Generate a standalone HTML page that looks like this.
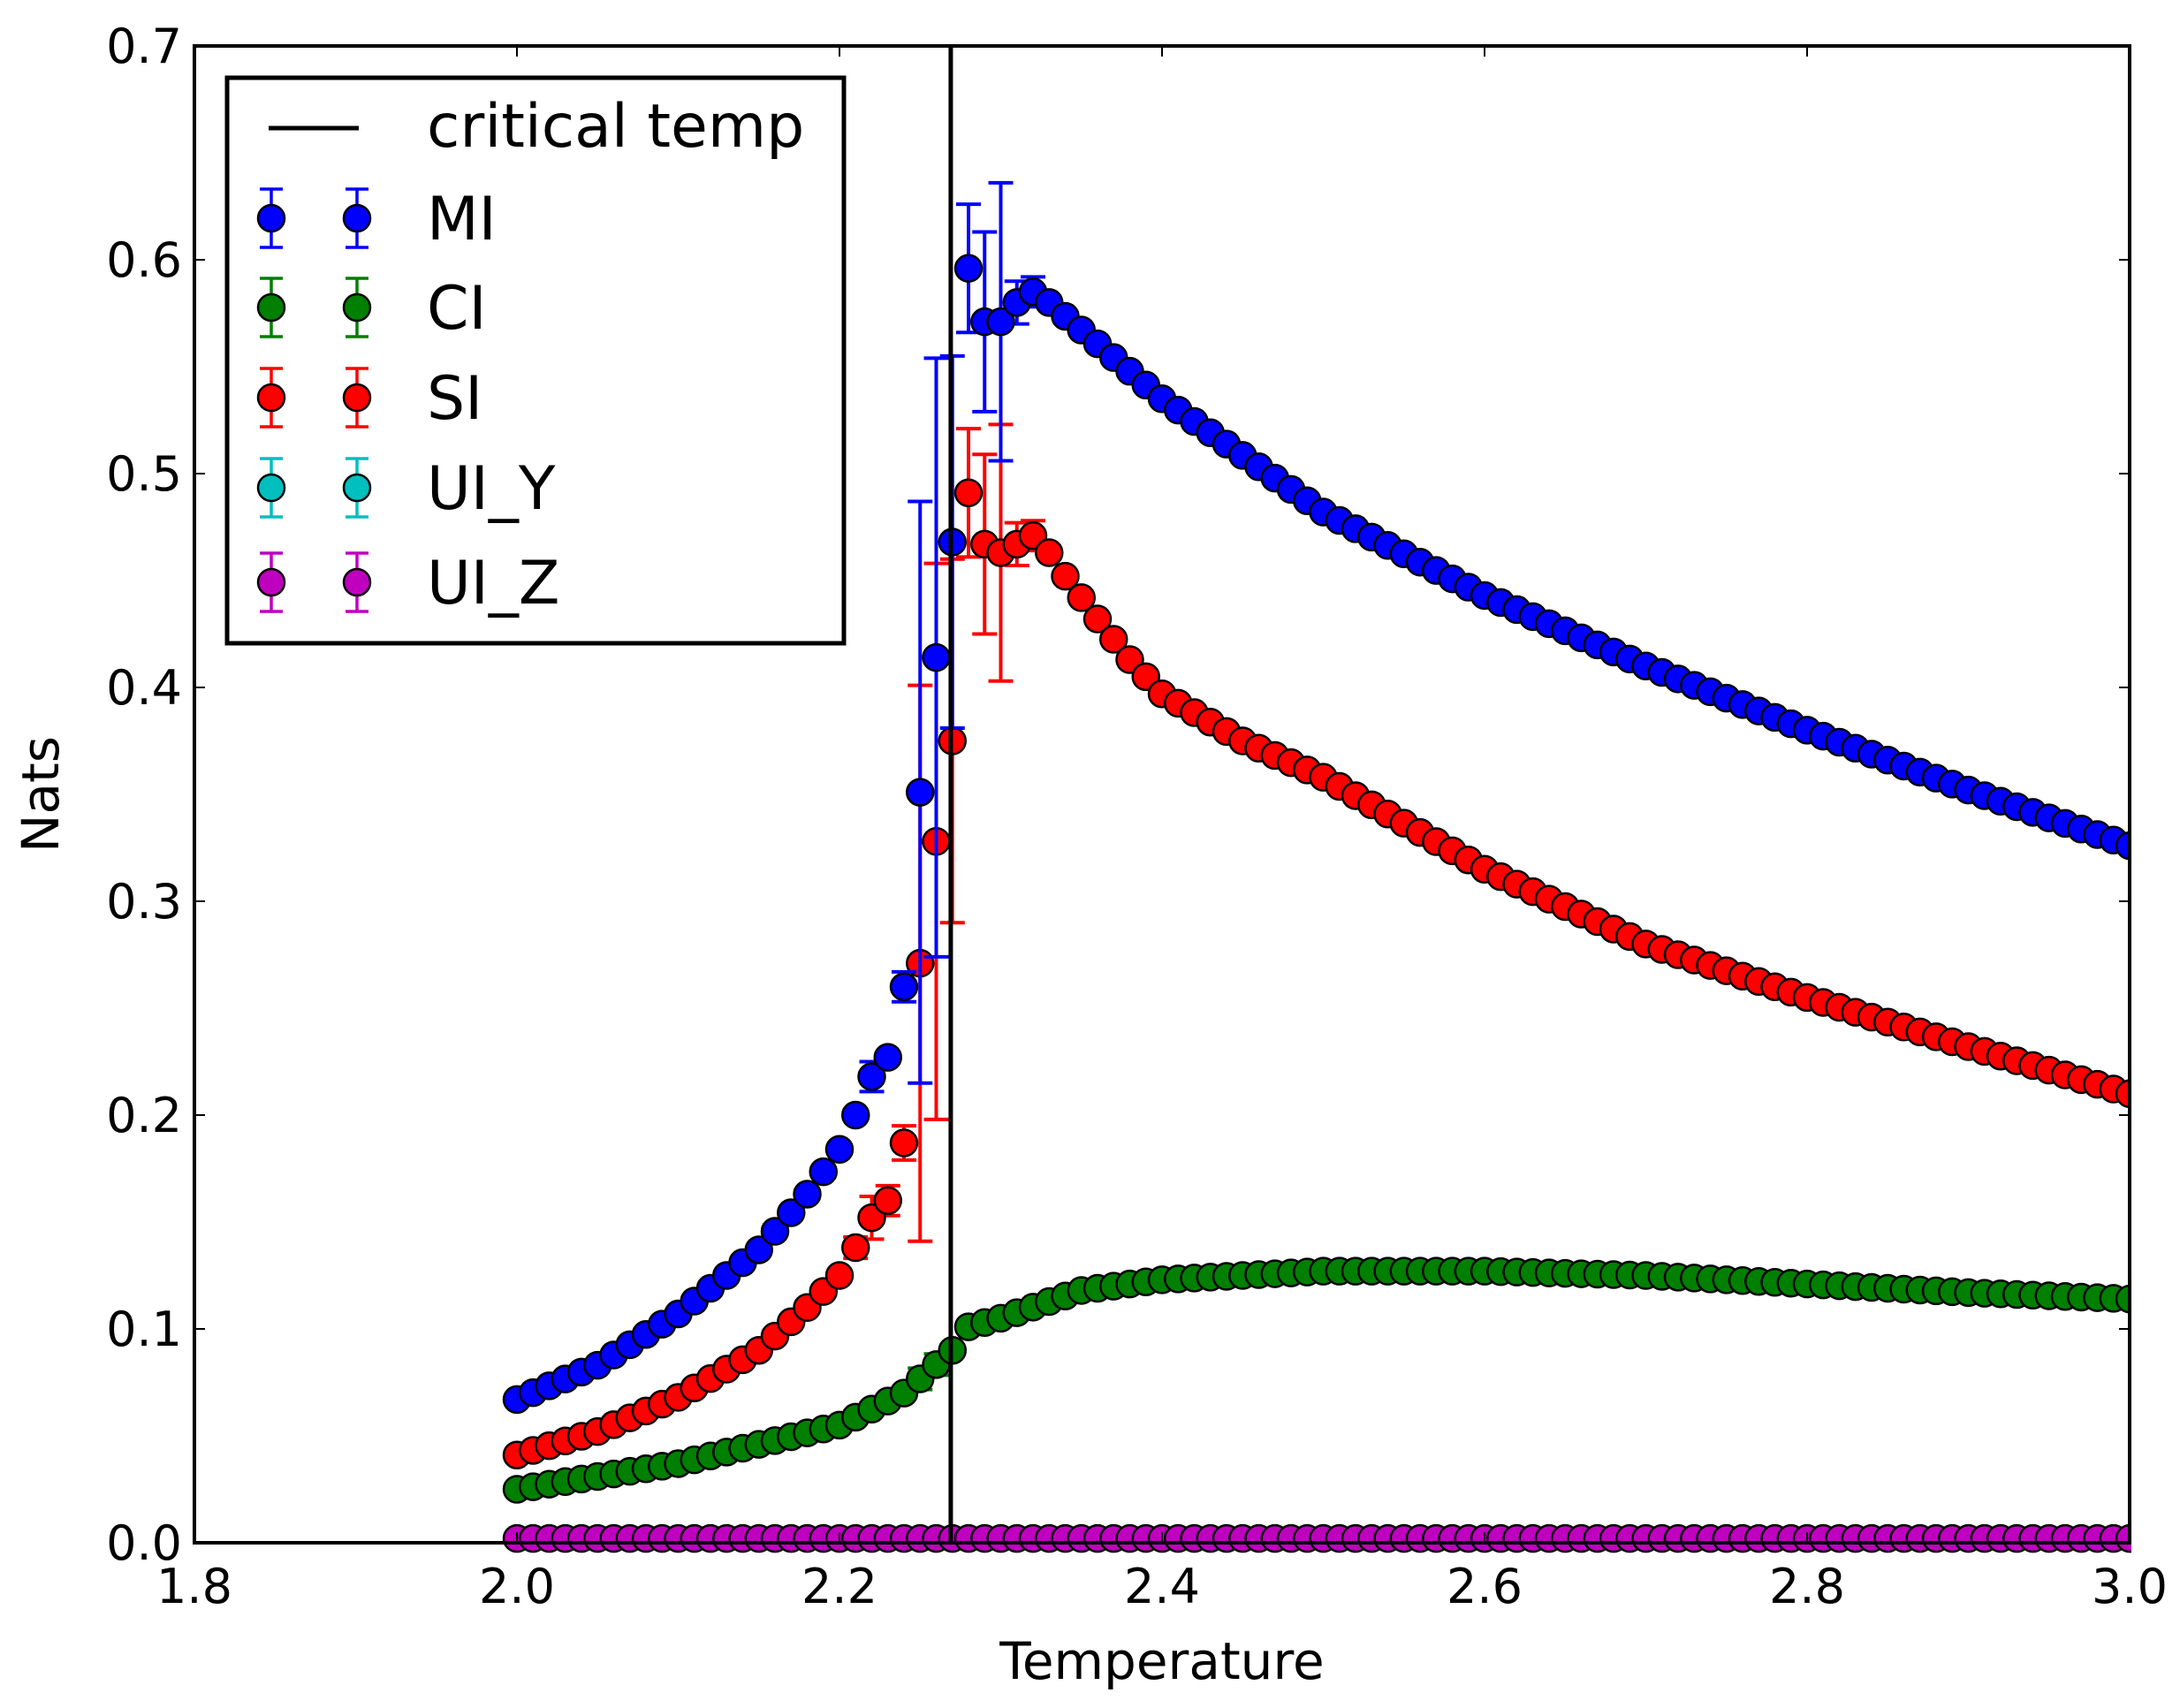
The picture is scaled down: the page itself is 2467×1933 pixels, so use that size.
<!DOCTYPE html>
<html><head><meta charset="utf-8"><style>
html,body{margin:0;padding:0;background:#fff;}
svg{display:block;}
text{font-family:"DejaVu Sans","Liberation Sans",sans-serif;fill:#000;}
</style></head><body>
<svg id="s" width="2467" height="1933" xmlns="http://www.w3.org/2000/svg"></svg>
<script>
const NS="http://www.w3.org/2000/svg";
const s=document.getElementById('s');
function el(t,a,txt){const e=document.createElementNS(NS,t);for(const k in a)e.setAttribute(k,a[k]);if(txt!==undefined)e.textContent=txt;s.appendChild(e);return e;}
const L=220,R=2410,T=52,B=1746;
const X=t=>L+(t-1.8)/1.2*(R-L);
const Y=v=>B-v/0.7*(B-T);
function interp(pts,t){for(let i=0;i<pts.length-1;i++){if(t<=pts[i+1][0]+1e-9){const[a,va]=pts[i],[b,vb]=pts[i+1];return va+(vb-va)*(t-a)/(b-a);}}return pts[pts.length-1][1];}
const MIp=[[2.0,.067],[2.05,.083],[2.10,.107],[2.15,.137],[2.18,.163],[2.20,.184],[2.21,.2],[2.22,.218],[2.23,.227],[2.24,.26],[2.25,.351],[2.26,.414],[2.27,.468],[2.28,.596],[2.29,.571],[2.30,.571],[2.31,.58],[2.32,.585],[2.33,.58],[2.4,.535],[2.5,.482],[2.6,.443],[2.7,.41],[2.8,.38],[2.9,.352],[3.0,.326]];
const SIp=[[2.0,.041],[2.05,.052],[2.10,.068],[2.15,.09],[2.18,.11],[2.20,.125],[2.21,.138],[2.22,.152],[2.23,.16],[2.24,.187],[2.25,.271],[2.26,.328],[2.27,.375],[2.28,.491],[2.29,.467],[2.30,.463],[2.31,.467],[2.32,.471],[2.33,.463],[2.34,.452],[2.36,.432],[2.38,.413],[2.4,.397],[2.45,.375],[2.5,.358],[2.6,.315],[2.7,.28],[2.8,.255],[2.9,.232],[3.0,.21]];
const CIp=[[2.0,.025],[2.1,.037],[2.2,.055],[2.24,.07],[2.27,.09],[2.28,.101],[2.3,.105],[2.35,.118],[2.4,.123],[2.5,.127],[2.6,.127],[2.7,.125],[2.8,.121],[2.9,.117],[3.0,.114]];
const MIe={2.24:.007,2.25:.136,2.26:.14,2.27:.087,2.28:.03,2.29:.042,2.30:.065,2.31:.01,2.32:.007,2.22:.007};
const SIe={2.21:.005,2.22:.01,2.23:.007,2.24:.008,2.25:.13,2.26:.13,2.27:.085,2.28:.03,2.29:.042,2.30:.06,2.31:.01,2.32:.007};
const CIe={2.25:.005,2.26:.005};
const RR=15;
function series(pts,errs,col,ecol){
  for(let i=0;i<=100;i++){const t=+(2+i*0.01).toFixed(2);const v=interp(pts,t);const e=errs[t.toFixed(2)]||errs[t];
    if(e){const x=X(t);el('line',{x1:x,x2:x,y1:Y(v-e),y2:Y(v+e),stroke:ecol,'stroke-width':4});
      el('line',{x1:x-14,x2:x+14,y1:Y(v-e),y2:Y(v-e),stroke:ecol,'stroke-width':4});
      el('line',{x1:x-14,x2:x+14,y1:Y(v+e),y2:Y(v+e),stroke:ecol,'stroke-width':4});}
  }
  for(let i=0;i<=100;i++){const t=2+i*0.01;const v=interp(pts,t);
    el('circle',{cx:X(t),cy:Y(v),r:RR,fill:col,stroke:'#000','stroke-width':2.5});}
}
series([[2,.002],[3,.002]],{},'#bf00bf','#bf00bf');
series(CIp,CIe,'#007f00','#007f00');
series(SIp,SIe,'#ff0000','#ff0000');
series(MIp,MIe,'#0000ff','#0000ff');
el('line',{x1:X(2.269),x2:X(2.269),y1:T,y2:B,stroke:'#000','stroke-width':5});
el('rect',{x:0,y:0,width:2467,height:T,fill:'#fff'});
el('rect',{x:R+2,y:0,width:60,height:1933,fill:'#fff'});
el('rect',{x:L,y:T,width:R-L,height:B-T,fill:'none',stroke:'#000','stroke-width':4});
const xt=[1.8,2.0,2.2,2.4,2.6,2.8,3.0];
xt.forEach(t=>{const x=X(t);el('line',{x1:x,x2:x,y1:B,y2:B-12,stroke:'#000','stroke-width':2});el('line',{x1:x,x2:x,y1:T,y2:T+12,stroke:'#000','stroke-width':2});
  el('text',{x:x,y:B+68,'font-size':54,'text-anchor':'middle'},t.toFixed(1));});
for(let i=0;i<=7;i++){const v=i/10,y=Y(v);el('line',{x1:L,x2:L+12,y1:y,y2:y,stroke:'#000','stroke-width':2});el('line',{x1:R,x2:R-12,y1:y,y2:y,stroke:'#000','stroke-width':2});
  el('text',{x:L-14,y:y+19,'font-size':54,'text-anchor':'end'},v.toFixed(1));}
el('text',{x:(L+R)/2,y:1900,'font-size':58,'text-anchor':'middle'},'Temperature');
el('text',{x:0,y:0,'font-size':58,'text-anchor':'middle',transform:'translate(66,'+((T+B)/2)+') rotate(-90)'},'Nats');
el('rect',{x:257,y:88,width:698,height:640,fill:'#fff',stroke:'#000','stroke-width':5});
el('line',{x1:304,x2:406,y1:145,y2:145,stroke:'#000','stroke-width':5});
el('text',{x:483,y:166,'font-size':68},'critical temp');
const leg=[['MI',247,'#0000ff'],['CI',348,'#007f00'],['SI',450,'#ff0000'],['UI_Y',552,'#00bfbf'],['UI_Z',659,'#bf00bf']];
leg.forEach(([n,y,c])=>{[307,404].forEach(x=>{el('line',{x1:x,x2:x,y1:y-33,y2:y+33,stroke:c,'stroke-width':3.5});
  el('line',{x1:x-13,x2:x+13,y1:y-33,y2:y-33,stroke:c,'stroke-width':3.5});el('line',{x1:x-13,x2:x+13,y1:y+33,y2:y+33,stroke:c,'stroke-width':3.5});
  el('circle',{cx:x,cy:y,r:RR,fill:c,stroke:'#000','stroke-width':2.5});});
  el('text',{x:483,y:y+24,'font-size':68},n);});
</script>
</body></html>
